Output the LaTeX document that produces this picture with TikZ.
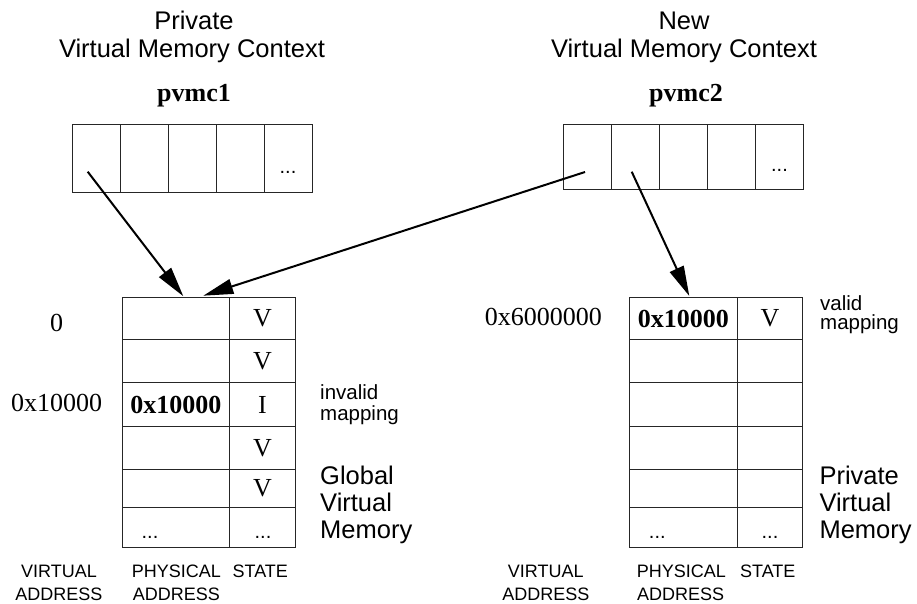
\documentclass[tikz,border=0pt]{standalone}
\usepackage{fontspec}
\setmainfont{Liberation Serif}
\setsansfont{Liberation Sans}
\usetikzlibrary{arrows.meta}
\begin{document}
\begin{tikzpicture}[x=1pt,y=-1pt,
  cellbox/.style={draw=black!85, line width=1.1pt, inner sep=0pt, anchor=north west,
    font=\fontsize{26}{28}\selectfont},
  serifbig/.style={inner sep=0pt, font=\fontsize{26}{28}\selectfont},
  sansbig/.style={inner sep=0pt, font=\sffamily\fontsize{25.5}{27}\selectfont},
  sanssmall/.style={inner sep=0pt, font=\sffamily\fontsize{20.5}{20}\selectfont},
  sanslabel/.style={inner sep=0pt, font=\sffamily\fontsize{18}{20}\selectfont},
  dotsstyle/.style={inner sep=0pt, anchor=base, font=\sffamily\fontsize{20}{20}\selectfont},
  ptr/.style={line width=2pt, -{Triangle[length=30pt,width=15pt]}}]
\useasboundingbox (0,0) rectangle (917,603);

% ---- titles ----
\node[sansbig, anchor=base] (tL1) at (194,29) {Private};
\node[sansbig, anchor=base] (tL2) at (192,57) {Virtual Memory Context};
\node[sansbig, anchor=base] (tR1) at (684,29) {New};
\node[sansbig, anchor=base] (tR2) at (684,57) {Virtual Memory Context};
\node[serifbig, anchor=base] (pv1) at (194,101) {\bfseries pvmc1};
\node[serifbig, anchor=base] (pv2) at (686,101) {\bfseries pvmc2};

% ---- context arrays ----
\foreach \x [count=\i] in {72,120,168,216,264}
  \node[cellbox, minimum width=48pt, minimum height=68pt] (a\i) at (\x,124) {};
\foreach \x [count=\i] in {562.7,610.8,658.9,707.0,755.1}
  \node[cellbox, minimum width=48.1pt, minimum height=65pt] (b\i) at (\x,124.3) {};
\node[dotsstyle] (ad) at (288,173.5) {...};
\node[dotsstyle] (bd) at (779.5,171) {...};

% ---- global virtual memory table ----
\foreach \y/\h/\p/\s [count=\i] in {296.7/42.6/{}/V, 339.3/43/{}/V, 382.3/43.7/{\bfseries 0x10000}/I,
    426/43.3/{}/V, 469.3/37.4/{}/V, 506.7/40/{}/{}} {
  \node[cellbox, minimum width=107.3pt, minimum height=\h pt] (gp\i) at (121.7,\y) {\p};
  \node[cellbox, minimum width=66pt, minimum height=\h pt] (gs\i) at (229,\y) {\s};
}
\node[dotsstyle] (gd1) at (150,538.5) {...};
\node[dotsstyle] (gd2) at (263,538.5) {...};

% ---- private virtual memory table ----
\foreach \y/\h/\p/\s [count=\i] in {296.7/42.6/{\bfseries 0x10000}/V, 339.3/43/{}/{}, 382.3/43.7/{}/{},
    426/43.3/{}/{}, 469.3/37.4/{}/{}, 506.7/40/{}/{}} {
  \node[cellbox, minimum width=107.7pt, minimum height=\h pt] (pp\i) at (629,\y) {\p};
  \node[cellbox, minimum width=65.6pt, minimum height=\h pt] (ps\i) at (736.7,\y) {\s};
}
\node[dotsstyle] (pd1) at (657.3,538.5) {...};
\node[dotsstyle] (pd2) at (770,538.5) {...};

% ---- virtual address labels ----
\node[serifbig, anchor=base] (va0) at (56.7,331) {0};
\node[serifbig, anchor=base] (va1) at (56.7,411) {0x10000};
\node[serifbig, anchor=base] (va2) at (543.3,325) {0x6000000};

% ---- side labels ----
\node[sanssmall, anchor=base west] (inv1) at (320,399.5) {invalid};
\node[sanssmall, anchor=base west] (inv2) at (320,420) {mapping};
\node[sanssmall, anchor=base west] (val1) at (820,310.5) {valid};
\node[sanssmall, anchor=base west] (val2) at (820,329) {mapping};
\node[sansbig, anchor=base west] (gl1) at (320,484) {Global};
\node[sansbig, anchor=base west] (gl2) at (320,511.5) {Virtual};
\node[sansbig, anchor=base west] (gl3) at (320,538.5) {Memory};
\node[sansbig, anchor=base west] (pr1) at (819.3,484) {Private};
\node[sansbig, anchor=base west] (pr2) at (819.3,511.5) {Virtual};
\node[sansbig, anchor=base west] (pr3) at (819.3,538.5) {Memory};

% ---- column labels ----
\node[sanslabel, anchor=base] (cl1) at (59,577) {VIRTUAL};
\node[sanslabel, anchor=base] (cl2) at (59,600.5) {ADDRESS};
\node[sanslabel, anchor=base west] (cl3) at (131.7,577) {PHYSICAL};
\node[sanslabel, anchor=base west] (cl4) at (132.7,600.5) {ADDRESS};
\node[sanslabel, anchor=base] (cl5) at (260.3,577) {STATE};
\node[sanslabel, anchor=base] (cr1) at (545.8,577) {VIRTUAL};
\node[sanslabel, anchor=base] (cr2) at (545.8,600.5) {ADDRESS};
\node[sanslabel, anchor=base west] (cr3) at (636.7,577) {PHYSICAL};
\node[sanslabel, anchor=base west] (cr4) at (637,600.5) {ADDRESS};
\node[sanslabel, anchor=base] (cr5) at (767.8,577) {STATE};

% ---- pointers ----
\coordinate (s1) at (87.7,171.7);
\coordinate (s2) at (585,172);
\coordinate (s3) at (631.7,171.7);
\coordinate (e1) at (183.3,296.2);
\coordinate (e2) at (203.3,295.7);
\coordinate (e3) at (689.3,296);
\draw[ptr] (s1) -- (e1);
\draw[ptr] (s2) -- (e2);
\draw[ptr] (s3) -- (e3);
\end{tikzpicture}
\end{document}
